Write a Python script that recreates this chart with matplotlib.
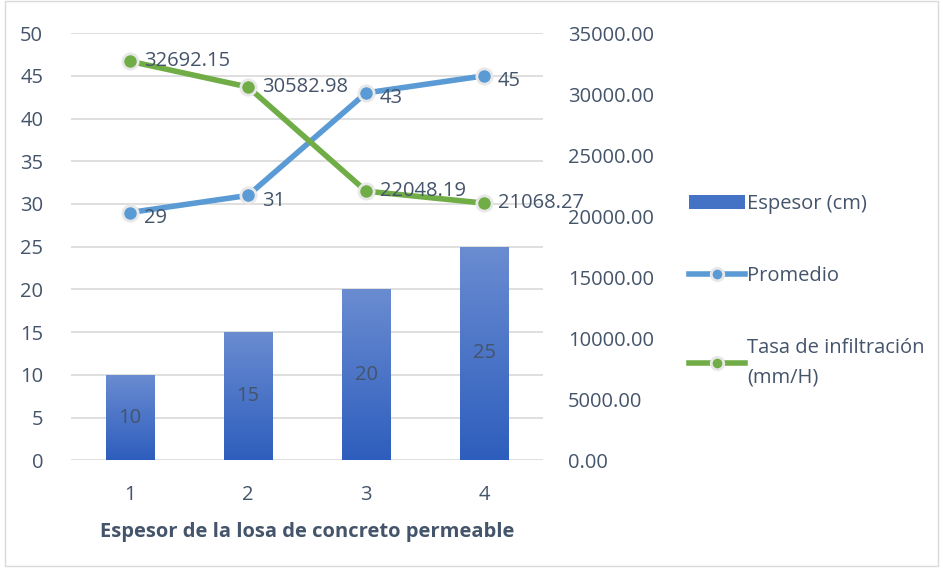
import numpy as np
import matplotlib.pyplot as plt
from matplotlib.lines import Line2D
from matplotlib.patches import Patch, Rectangle
from matplotlib.colors import LinearSegmentedColormap

plt.rcParams['font.family'] = ['Open Sans', 'DejaVu Sans']

# datos
categorias = ['1', '2', '3', '4']
espesor = [10, 15, 20, 25]
promedio = [29, 31, 43, 45]
tasa = [32692.15, 30582.98, 22048.19, 21068.27]

txt = '#44546A'
c_prom = '#5B9BD5'
c_tasa = '#70AD47'
fs = 14.5

fig = plt.figure(figsize=(9.43, 5.71), dpi=100)
ax = fig.add_axes([0.0753, 0.194, 0.5007, 0.748])
ax2 = ax.twinx()

x = np.arange(1, len(categorias) + 1)

# barras con degradado
barras = ax.bar(x, espesor, width=0.41, color='none', zorder=2)
grad = LinearSegmentedColormap.from_list('g', ['#2E5EBD', '#6A8CD1'])
for b in barras:
    im = ax.imshow(np.linspace(0, 1, 100).reshape(-1, 1), cmap=grad, origin='lower',
                   extent=[b.get_x(), b.get_x() + b.get_width(), 0, b.get_height()],
                   aspect='auto', zorder=2)
    im.set_clip_path(b)
for xi, v in zip(x, espesor):
    ax.text(xi, v / 2, str(v), ha='center', va='center', fontsize=fs, color=txt, zorder=5)

ax.set_xlim(0.5, 4.5)
ax.set_ylim(0, 50)
ax.set_yticks(range(0, 51, 5))
ax.set_xticks(x)
ax.set_xticklabels(categorias)
ax.grid(axis='y', color='#D9D9D9', linewidth=1.2, zorder=0)
ax.set_axisbelow(True)
for s in ax.spines.values():
    s.set_visible(False)
for s in ax2.spines.values():
    s.set_visible(False)
ax.tick_params(length=0, labelsize=fs, labelcolor=txt, pad=18)
ax.tick_params(axis='y', pad=20)
ax.set_xlabel('Espesor de la losa de concreto permeable', fontsize=fs, fontweight='bold',
              color=txt, labelpad=12)

# linea promedio (eje izquierdo)
ax.plot(x, promedio, color=c_prom, lw=4, marker='o', ms=11, mfc=c_prom,
        mec='#E8E8E8', mew=2, zorder=4)
for xi, v in zip(x, promedio):
    ax.annotate(str(v), (xi, v), xytext=(10, -4), textcoords='offset points',
                ha='left', va='center', fontsize=fs, color=txt, zorder=6)

# linea tasa (eje derecho)
ax2.plot(x, tasa, color=c_tasa, lw=4, marker='o', ms=11, mfc=c_tasa,
         mec='#E8E8E8', mew=2, zorder=4)
for xi, v in zip(x, tasa):
    ax2.annotate(f'{v:.2f}', (xi, v), xytext=(10, 0), textcoords='offset points',
                 ha='left', va='center', fontsize=fs, color=txt, zorder=6)
ax2.set_ylim(0, 35000)
ax2.set_yticks(range(0, 35001, 5000))
ax2.set_yticklabels([f'{t:.2f}' for t in range(0, 35001, 5000)])
ax2.tick_params(length=0, labelsize=fs, labelcolor=txt, pad=18)

# leyenda
handles = [
    Patch(facecolor='#4472C4', edgecolor='none'),
    Line2D([], [], color=c_prom, lw=4, marker='o', ms=9, mfc=c_prom, mec='#E8E8E8', mew=2),
    Line2D([], [], color=c_tasa, lw=4, marker='o', ms=9, mfc=c_tasa, mec='#E8E8E8', mew=2),
]
labels = ['Espesor (cm)', 'Promedio', 'Tasa de infiltración\n(mm/H)']
leg = fig.legend(handles, labels, loc='upper left', bbox_to_anchor=(0.722, 0.675),
                 frameon=False, fontsize=fs, labelspacing=2.6, handlelength=2.8,
                 handletextpad=0.1, borderaxespad=0)
for t in leg.get_texts():
    t.set_color(txt)
    t.set_linespacing(1.6)

# borde
fig.patches.append(Rectangle((0.005, 0.008), 0.99, 0.99, transform=fig.transFigure,
                             fill=False, edgecolor='#D9D9D9', lw=1))

plt.savefig('out.png', dpi=100)
